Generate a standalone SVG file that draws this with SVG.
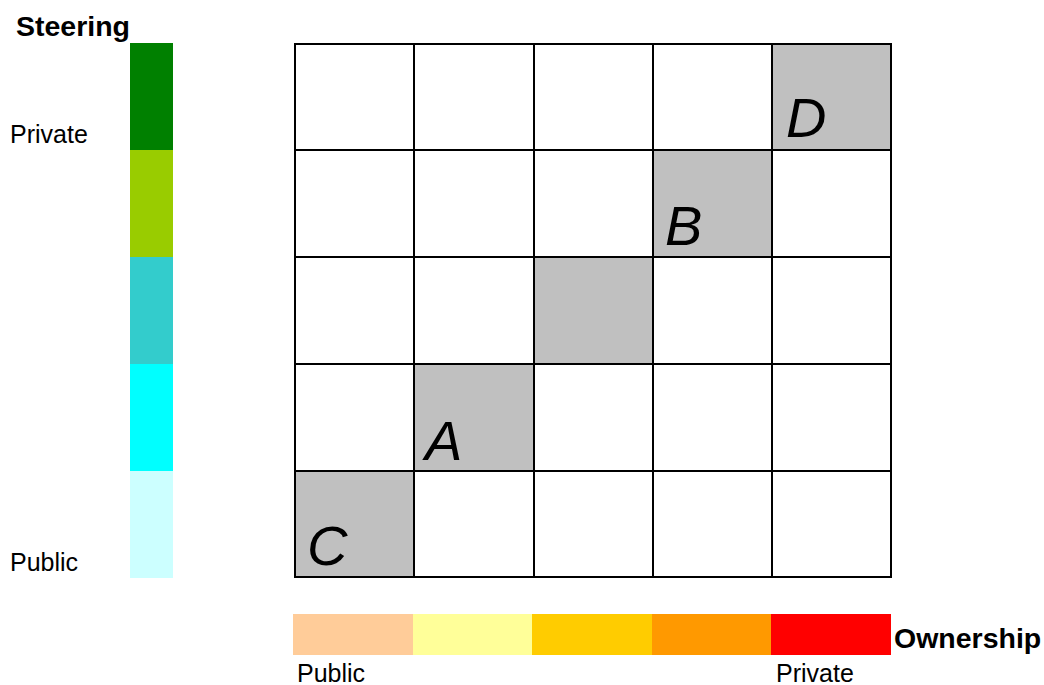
<svg xmlns="http://www.w3.org/2000/svg" width="1044" height="685" viewBox="0 0 1044 685">
<style>
.lbl{font-family:"Liberation Sans",Arial,sans-serif;font-size:25px;fill:#000}
.ttl{font-family:"Liberation Sans",Arial,sans-serif;font-size:28.5px;font-weight:bold;fill:#000}
.big{font-family:"Liberation Sans",Arial,sans-serif;font-size:56px;font-style:italic;fill:#000}
.cell{fill:#C0C0C0}
.grid{stroke:#000;stroke-width:2;fill:none}
</style>
<rect width="1044" height="685" fill="#fff"/>
<g id="steering">
<rect x="130" y="43" width="43" height="107" fill="#008000"/>
<rect x="130" y="150" width="43" height="107" fill="#99CC00"/>
<rect x="130" y="257" width="43" height="107" fill="#33CCCC"/>
<rect x="130" y="364" width="43" height="107" fill="#00FFFF"/>
<rect x="130" y="471" width="43" height="107" fill="#CCFFFF"/>
<text class="ttl" x="16" y="36">Steering</text>
<text class="lbl" x="10" y="143">Private</text>
<text class="lbl" x="10" y="571">Public</text>
</g>
<g id="ownership">
<rect x="293" y="614" width="120" height="41" fill="#FFCC99"/>
<rect x="413" y="614" width="119" height="41" fill="#FFFF99"/>
<rect x="532" y="614" width="120" height="41" fill="#FFCC00"/>
<rect x="652" y="614" width="119" height="41" fill="#FF9900"/>
<rect x="771" y="614" width="120" height="41" fill="#FF0000"/>
<text class="ttl" x="894" y="648">Ownership</text>
<text class="lbl" x="297" y="682">Public</text>
<text class="lbl" x="776" y="682">Private</text>
</g>
<g id="cells">
<rect class="cell" x="772" y="44" width="119" height="106"/>
<rect class="cell" x="653" y="150" width="119" height="107"/>
<rect class="cell" x="534" y="257" width="119" height="107"/>
<rect class="cell" x="414" y="364" width="120" height="107"/>
<rect class="cell" x="295" y="471" width="119" height="107"/>
</g>
<g id="grid">
<rect class="grid" x="295" y="44" width="596" height="533"/>
<path class="grid" d="M414 44V577M534 44V577M653 44V577M772 44V577M295 150H891M295 257H891M295 364H891M295 471H891"/>
</g>
<g id="letters">
<text class="big" x="786" y="137">D</text>
<text class="big" x="665" y="245">B</text>
<text class="big" x="425" y="460">A</text>
<text class="big" x="307" y="565">C</text>
</g>
</svg>
